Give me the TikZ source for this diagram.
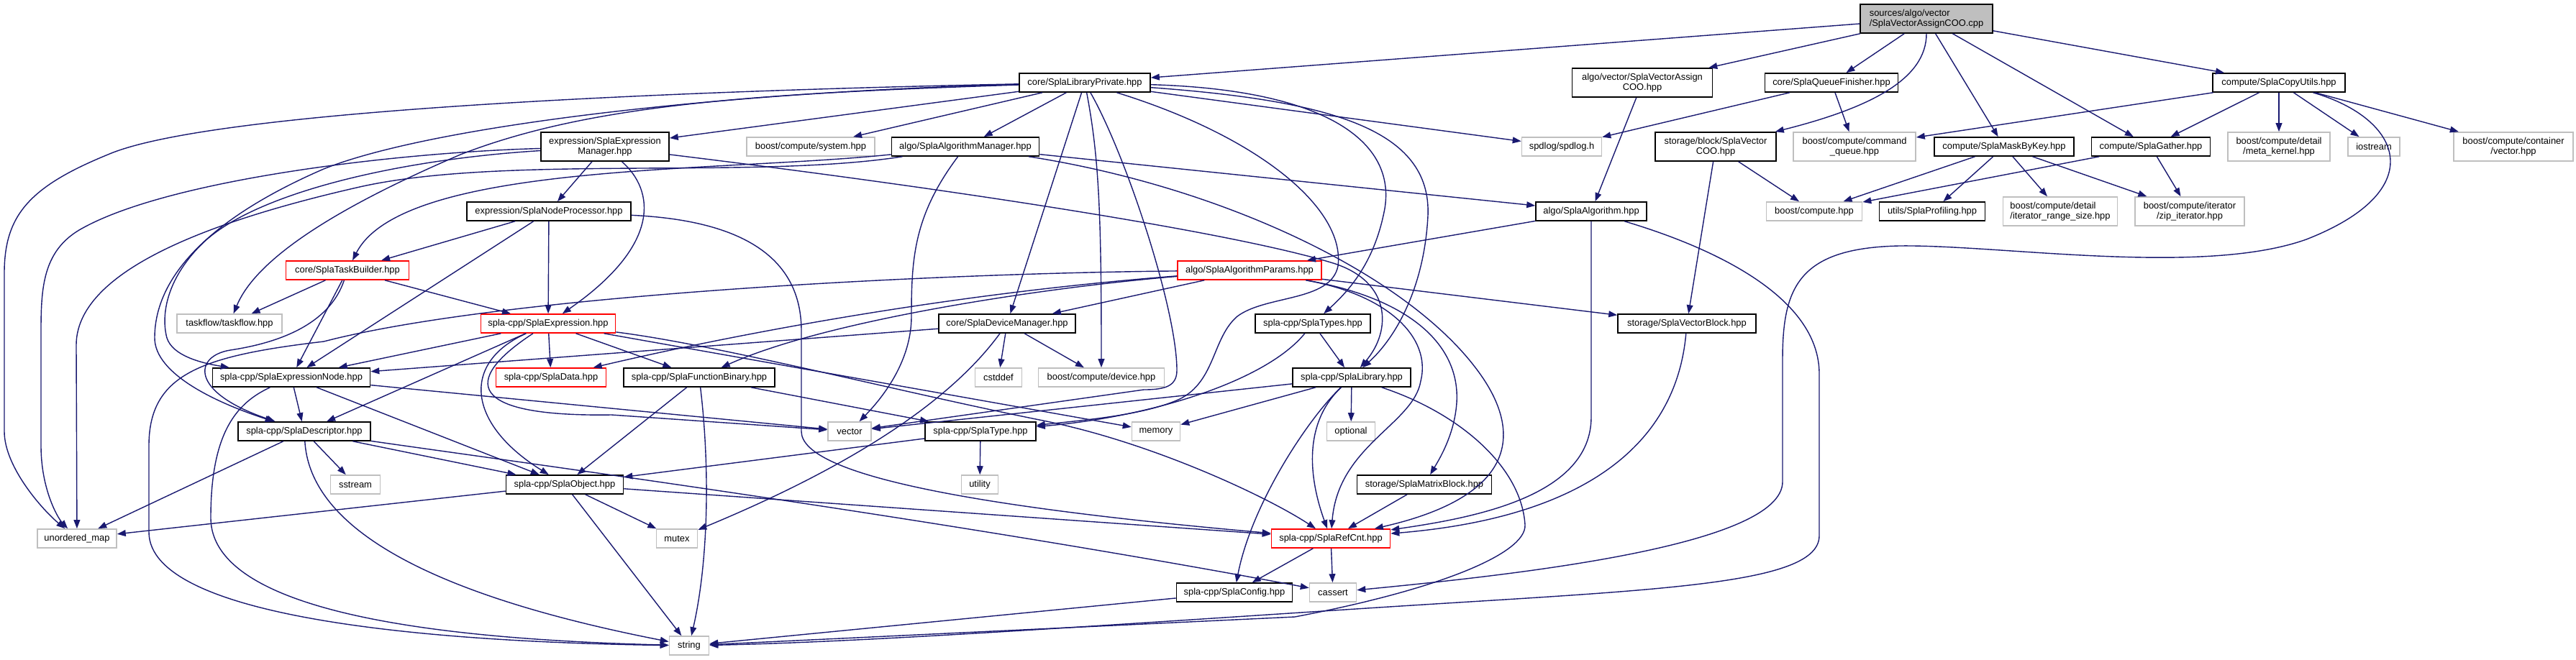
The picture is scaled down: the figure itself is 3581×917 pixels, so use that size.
\documentclass[tikz,border=0pt]{standalone}
\usepackage{fontspec}
\setmainfont{Liberation Sans}
\usepackage{tikz}
\usetikzlibrary{arrows.meta}

\definecolor{edgeblue}{RGB}{25,25,112}
\definecolor{boxgray}{RGB}{191,191,191}

\begin{document}
\begin{tikzpicture}[x=0.5pt, y=-0.5pt, >={Triangle[length=6pt,width=4.4pt]}]
  \tikzstyle{box}=[rectangle, draw, fill=white, line width=0.8pt, inner sep=0pt, align=center, minimum height=13pt, font=\fontsize{6.45pt}{7pt}\selectfont]
  \tikzstyle{sysbox}=[box, draw=boxgray]
  \tikzstyle{redbox}=[box, draw=red]
  \tikzstyle{twoline}=[minimum height=20pt]
  \tikzstyle{dep}=[->, draw=edgeblue, line width=0.7pt]
  \tikzset{wd/.style={minimum width=#1*0.5pt}}

  \useasboundingbox (0,0) rectangle (3581,917);

  \node[box, fill=boxgray, twoline, wd=184, align=left] (root) at (2678,26) {sources/algo/vector\\/SplaVectorAssignCOO.cpp};

  \node[box, wd=182] (libpriv) at (1508,115) {core/SplaLibraryPrivate.hpp};
  \node[box, twoline, wd=195] (vacoo) at (2283,115) {algo/vector/SplaVectorAssign\\COO.hpp};
  \node[box, wd=185] (queue) at (2546,115) {core/SplaQueueFinisher.hpp};
  \node[box, wd=184] (copyutils) at (3168,115) {compute/SplaCopyUtils.hpp};

  \node[box, twoline, wd=178] (exprmgr) at (841,204) {expression/SplaExpression\\Manager.hpp};
  \node[sysbox, wd=178] (system) at (1127,204) {boost/compute/system.hpp};
  \node[box, wd=205] (algmgr) at (1342,204) {algo/SplaAlgorithmManager.hpp};
  \node[sysbox, wd=111] (spdlog) at (2171,204) {spdlog/spdlog.h};
  \node[box, twoline, wd=168] (vcoo) at (2385,204) {storage/block/SplaVector\\COO.hpp};
  \node[sysbox, twoline, wd=170] (cmdq) at (2578,204) {boost/compute/command\\\_queue.hpp};
  \node[box, wd=194] (mask) at (2786,204) {compute/SplaMaskByKey.hpp};
  \node[box, wd=165] (gather) at (2990,204) {compute/SplaGather.hpp};
  \node[sysbox, twoline, wd=142] (metak) at (3168,204) {boost/compute/detail\\/meta\_kernel.hpp};
  \node[sysbox, wd=72] (iostream) at (3300,204) {iostream};
  \node[sysbox, twoline, wd=166] (contvec) at (3494,204) {boost/compute/container\\/vector.hpp};

  \node[box, wd=228] (nodeproc) at (763,294) {expression/SplaNodeProcessor.hpp};
  \node[box, wd=154] (alg) at (2212,294) {algo/SplaAlgorithm.hpp};
  \node[sysbox, wd=133] (bcompute) at (2522,294) {boost/compute.hpp};
  \node[box, wd=147] (prof) at (2686,294) {utils/SplaProfiling.hpp};
  \node[sysbox, twoline, wd=159, align=left] (itrange) at (2864,294) {boost/compute/detail\\/iterator\_range\_size.hpp};
  \node[sysbox, twoline, wd=152] (zipit) at (3044,294) {boost/compute/iterator\\/zip\_iterator.hpp};

  \node[redbox, wd=171] (taskb) at (483,376) {core/SplaTaskBuilder.hpp};
  \node[redbox, wd=200] (params) at (1737,376) {algo/SplaAlgorithmParams.hpp};

  \node[sysbox, wd=146] (taskflow) at (319,450) {taskflow/taskflow.hpp};
  \node[redbox, wd=187] (expr) at (762,450) {spla-cpp/SplaExpression.hpp};
  \node[box, wd=190] (devmgr) at (1400,450) {core/SplaDeviceManager.hpp};
  \node[box, wd=160] (types) at (1825,450) {spla-cpp/SplaTypes.hpp};
  \node[box, wd=192] (vblock) at (2345,450) {storage/SplaVectorBlock.hpp};

  \node[box, wd=219] (exprnode) at (405,525) {spla-cpp/SplaExpressionNode.hpp};
  \node[redbox, wd=153] (data) at (766,525) {spla-cpp/SplaData.hpp};
  \node[box, wd=210] (funcbin) at (972,525) {spla-cpp/SplaFunctionBinary.hpp};
  \node[sysbox, wd=65] (cstddef) at (1388,525) {cstddef};
  \node[sysbox, wd=175] (device) at (1531,525) {boost/compute/device.hpp};
  \node[box, wd=164] (library) at (1879,525) {spla-cpp/SplaLibrary.hpp};

  \node[box, wd=184] (desc) at (423,600) {spla-cpp/SplaDescriptor.hpp};
  \node[sysbox, wd=60] (vector) at (1181,600) {vector};
  \node[box, wd=154] (type) at (1363,600) {spla-cpp/SplaType.hpp};
  \node[sysbox, wd=67] (memory) at (1607,600) {memory};
  \node[sysbox, wd=67] (optional) at (1878,600) {optional};

  \node[sysbox, wd=69] (sstream) at (494,674) {sstream};
  \node[box, wd=163] (object) at (785,674) {spla-cpp/SplaObject.hpp};
  \node[sysbox, wd=51] (utility) at (1362,674) {utility};
  \node[box, wd=187] (matrix) at (1980,674) {storage/SplaMatrixBlock.hpp};

  \node[sysbox, wd=110] (umap) at (107,749) {unordered\_map};
  \node[sysbox, wd=57] (mutex) at (941,749) {mutex};
  \node[redbox, wd=165] (refcnt) at (1850,749) {spla-cpp/SplaRefCnt.hpp};

  \node[box, wd=161] (config) at (1716,824) {spla-cpp/SplaConfig.hpp};
  \node[sysbox, wd=65] (cassert) at (1853,824) {cassert};

  \node[sysbox, wd=55] (string) at (958,898) {string};

  % source file
  \draw[dep] (root) -- (libpriv);
  \draw[dep] (root) -- (vacoo);
  \draw[dep] (root) -- (queue);
  \draw[dep] (root) .. controls (2678,110) and (2600,150) .. (vcoo);
  \draw[dep] (root) -- (mask);
  \draw[dep] (root) -- (gather);
  \draw[dep] (root) -- (copyutils);

  \draw[dep] (vacoo) -- (alg);
  \draw[dep] (queue) -- (spdlog);
  \draw[dep] (queue) -- (cmdq);

  \draw[dep] (copyutils) -- (cmdq);
  \draw[dep] (copyutils) -- (gather);
  \draw[dep] (copyutils) -- (metak);
  \draw[dep] (copyutils) -- (iostream);
  \draw[dep] (copyutils) -- (contvec);
  \draw[dep] (copyutils) .. controls (3340,165) and (3380,265) .. (3206,333) .. controls (3060,385) and (2780,340) .. (2640,342) .. controls (2500,345) and (2478,400) .. (2478,500) -- (2478,670) .. controls (2478,760) and (2100,800) .. (cassert);

  \draw[dep] (gather) -- (bcompute);
  \draw[dep] (gather) -- (zipit);
  \draw[dep] (mask) -- (bcompute);
  \draw[dep] (mask) -- (prof);
  \draw[dep] (mask) -- (itrange);
  \draw[dep] (mask) -- (zipit);
  \draw[dep] (vcoo) -- (bcompute);
  \draw[dep] (vcoo) -- (vblock);

  \draw[dep] (alg) -- (params);
  \draw[dep] (alg) -- (2212,580) .. controls (2212,690) and (2050,720) .. (refcnt);
  \draw[dep] (alg) .. controls (2400,350) and (2529,420) .. (2529,520) -- (2529,745) .. controls (2529,815) and (2300,820) .. (1900,846) .. controls (1500,872) and (1200,893) .. (string);
  \draw[dep] (vblock) .. controls (2330,620) and (2200,720) .. (refcnt);

  % library private
  \draw[dep] (libpriv) -- (exprmgr);
  \draw[dep] (libpriv) -- (system);
  \draw[dep] (libpriv) -- (algmgr);
  \draw[dep] (libpriv) -- (devmgr);
  \draw[dep] (libpriv) .. controls (1528,220) and (1531,300) .. (device);
  \draw[dep] (libpriv) .. controls (1565,215) and (1636,430) .. (1636,515) .. controls (1636,537) and (1620,542) .. (1590,542) -- (vector);
  \draw[dep] (libpriv) .. controls (1750,190) and (1870,290) .. (1860,370) .. controls (1850,420) and (1760,410) .. (1720,440) .. controls (1685,470) and (1690,530) .. (1640,555) .. controls (1590,578) and (1500,585) .. (type);
  \draw[dep] (libpriv) .. controls (1850,125) and (1940,200) .. (1925,290) .. controls (1912,360) and (1880,400) .. (types);
  \draw[dep] (libpriv) .. controls (1850,140) and (1990,180) .. (1985,300) .. controls (1980,400) and (1940,470) .. (library);
  \draw[dep] (libpriv) -- (spdlog);
  \draw[dep] (libpriv) .. controls (1000,125) and (300,150) .. (150,215) .. controls (40,260) and (6,300) .. (6,380) -- (6,600) .. controls (6,650) and (60,710) .. (umap);
  \draw[dep] (libpriv) .. controls (1050,130) and (820,145) .. (640,215) .. controls (500,275) and (360,350) .. (taskflow);
  \draw[dep] (libpriv) .. controls (1000,128) and (600,175) .. (450,235) .. controls (300,300) and (215,380) .. (215,470) .. controls (215,520) and (300,560) .. (desc);

  \draw[dep] (exprmgr) .. controls (550,212) and (230,250) .. (110,320) .. controls (60,350) and (57,400) .. (57,460) -- (57,620) .. controls (57,680) and (80,720) .. (umap);
  \draw[dep] (exprmgr) .. controls (550,222) and (350,270) .. (280,340) .. controls (230,390) and (224,440) .. (232,470) .. controls (240,495) and (280,505) .. (exprnode);
  \draw[dep] (exprmgr) -- (nodeproc);
  \draw[dep] (exprmgr) .. controls (910,265) and (920,340) .. (expr);
  \draw[dep] (exprmgr) .. controls (1300,260) and (1700,320) .. (1850,365) .. controls (1935,390) and (1935,460) .. (library);

  \draw[dep] (algmgr) -- (alg);
  \draw[dep] (algmgr) .. controls (1700,260) and (1950,380) .. (2050,510) .. controls (2120,600) and (2110,690) .. (refcnt);
  \draw[dep] (algmgr) .. controls (1000,240) and (560,225) .. (taskb);
  \draw[dep] (algmgr) .. controls (1050,250) and (700,215) .. (500,260) .. controls (280,310) and (106,380) .. (106,480) -- (umap);
  \draw[dep] (algmgr) .. controls (1270,300) and (1267,360) .. (1267,440) .. controls (1267,500) and (1230,550) .. (vector);

  % algorithm params
  \draw[dep] (params) -- (devmgr);
  \draw[dep] (params) .. controls (1300,380) and (700,410) .. (450,475) .. controls (280,495) and (207,520) .. (207,620) -- (207,740) .. controls (207,860) and (600,893) .. (string);
  \draw[dep] (params) .. controls (1300,410) and (1000,470) .. (data);
  \draw[dep] (params) .. controls (1450,400) and (1150,445) .. (funcbin);
  \draw[dep] (params) .. controls (1930,410) and (1990,470) .. (1975,530) .. controls (1965,590) and (1860,620) .. (refcnt);
  \draw[dep] (params) .. controls (1960,415) and (2030,480) .. (2025,560) .. controls (2022,605) and (2000,640) .. (matrix);
  \draw[dep] (params) -- (vblock);

  \draw[dep] (taskb) -- (taskflow);
  \draw[dep] (taskb) -- (expr);
  \draw[dep] (taskb) -- (exprnode);
  \draw[dep] (taskb) .. controls (460,445) and (400,475) .. (320,487) .. controls (270,495) and (262,545) .. (desc);

  \draw[dep] (nodeproc) -- (taskb);
  \draw[dep] (nodeproc) -- (exprnode);
  \draw[dep] (nodeproc) -- (expr);
  \draw[dep] (nodeproc) .. controls (1000,305) and (1114,340) .. (1114,460) -- (1114,600) .. controls (1114,660) and (1350,705) .. (refcnt);

  % expression
  \draw[dep] (expr) -- (exprnode);
  \draw[dep] (expr) -- (desc);
  \draw[dep] (expr) .. controls (640,505) and (650,590) .. (object);
  \draw[dep] (expr) .. controls (640,530) and (650,580) .. (850,577) -- (vector);
  \draw[dep] (expr) -- (data);
  \draw[dep] (expr) -- (funcbin);
  \draw[dep] (expr) -- (memory);
  \draw[dep] (expr) .. controls (1000,480) and (1250,545) .. (1450,585) .. controls (1600,615) and (1760,690) .. (refcnt);

  \draw[dep] (exprnode) -- (desc);
  \draw[dep] (exprnode) -- (object);
  \draw[dep] (exprnode) -- (vector);
  \draw[dep] (exprnode) .. controls (330,560) and (293,600) .. (293,720) .. controls (293,860) and (650,890) .. (string);

  \draw[dep] (desc) -- (umap);
  \draw[dep] (desc) -- (sstream);
  \draw[dep] (desc) -- (object);
  \draw[dep] (desc) .. controls (430,720) and (560,820) .. (string);
  \draw[dep] (desc) .. controls (700,640) and (1300,720) .. (cassert);

  \draw[dep] (object) -- (umap);
  \draw[dep] (object) -- (mutex);
  \draw[dep] (object) -- (string);
  \draw[dep] (object) -- (refcnt);

  \draw[dep] (funcbin) -- (object);
  \draw[dep] (funcbin) .. controls (987,650) and (985,780) .. (string);
  \draw[dep] (funcbin) -- (type);

  \draw[dep] (devmgr) -- (cstddef);
  \draw[dep] (devmgr) -- (device);
  \draw[dep] (devmgr) .. controls (1320,560) and (1180,650) .. (mutex);
  \draw[dep] (devmgr) -- (exprnode);

  % library
  \draw[dep] (types) -- (library);
  \draw[dep] (types) .. controls (1760,530) and (1600,580) .. (type);
  \draw[dep] (library) -- (vector);
  \draw[dep] (library) -- (memory);
  \draw[dep] (library) -- (optional);
  \draw[dep] (library) .. controls (1820,580) and (1740,700) .. (config);
  \draw[dep] (library) .. controls (1805,595) and (1825,680) .. (refcnt);
  \draw[dep] (library) .. controls (2030,575) and (2115,650) .. (2120,730) .. controls (2122,770) and (2000,820) .. (1800,858) -- (string);

  \draw[dep] (type) -- (utility);
  \draw[dep] (type) -- (object);
  \draw[dep] (matrix) -- (refcnt);
  \draw[dep] (refcnt) -- (config);
  \draw[dep] (refcnt) -- (cassert);
  \draw[dep] (config) -- (string);
\end{tikzpicture}
\end{document}
